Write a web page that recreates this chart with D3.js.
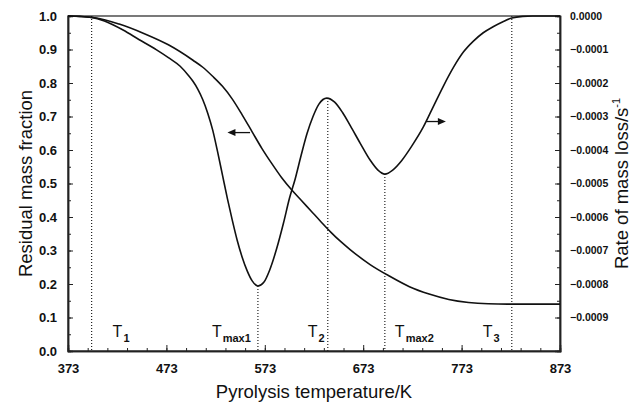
<!DOCTYPE html>
<html lang="en">
<head>
    <meta charset="UTF-8">
    <title>Pyrolysis TG / DTG</title>
    <script src="https://d3js.org/d3.v7.min.js"></script>
    <style>
        body { margin: 0; background: #fff; }
        svg { font-family: Arial, "Liberation Sans", sans-serif; }
    </style>
</head>
<body>

<script>
// residual mass fraction (left axis)
const tgTemp = [373, 400, 425, 450, 475, 500, 510, 520, 530, 540, 550, 560, 570, 580, 590, 600, 610, 620, 630, 640, 650, 660, 680, 700, 720, 740, 760, 780, 800, 820, 850, 873];
const tgMass = [1.0, 0.995, 0.976, 0.948, 0.914, 0.868, 0.847, 0.820, 0.790, 0.752, 0.705, 0.655, 0.605, 0.560, 0.518, 0.482, 0.450, 0.418, 0.386, 0.355, 0.327, 0.302, 0.258, 0.223, 0.192, 0.170, 0.154, 0.145, 0.141, 0.140, 0.140, 0.140];

// rate of mass loss (right axis)
const dtgTemp = [373, 385, 397, 410, 429, 445, 463, 475, 487, 495, 500, 505, 510, 515, 520, 525, 530, 535, 540, 545, 550, 555, 560, 566, 572, 578, 585, 592, 598, 604, 610, 616, 622, 628, 636, 644, 652, 660, 670, 680, 688, 695, 703, 712, 722, 734, 744, 754, 765, 775, 785, 795, 805, 815, 824, 835, 845, 873];
const dtgRate = [0, -0.000001, -0.000004, -0.000015, -0.000042, -0.00007, -0.000101, -0.000124, -0.00015, -0.000176, -0.000195, -0.000219, -0.00025, -0.00029, -0.00034, -0.000405, -0.000475, -0.000545, -0.00061, -0.00067, -0.00072, -0.00076, -0.00079, -0.000806, -0.000795, -0.000758, -0.000695, -0.000618, -0.000545, -0.000485, -0.000415, -0.00035, -0.0003, -0.000263, -0.000245, -0.000257, -0.000288, -0.000328, -0.00038, -0.00043, -0.00046, -0.000472, -0.00046, -0.000432, -0.00039, -0.000332, -0.000272, -0.000212, -0.000152, -0.000107, -0.000075, -0.00005, -0.000032, -0.000017, -0.000006, -0.000001, 0, 0];

const xTicks = [373, 473, 573, 673, 773, 873];
const leftTicks = [0, 0.1, 0.2, 0.3, 0.4, 0.5, 0.6, 0.7, 0.8, 0.9, 1.0];
const rightTicks = [0, -0.0001, -0.0002, -0.0003, -0.0004, -0.0005, -0.0006, -0.0007, -0.0008, -0.0009];

// characteristic temperatures and where their dotted line starts (rate units)
const markerNames = [["T", "1"], ["T", "max1"], ["T", "2"], ["T", "max2"], ["T", "3"]];
const markerTemp = [397, 566, 637, 695, 824];
const markerTop = [0, -0.000806, -0.000245, -0.000472, 0];
const markerLabelDx = [21, -46, -20, 10, -29];

const width = 631, height = 403;
const margin = {left: 68, right: 71, top: 16, bottom: 52};

const svg = d3.select("body").append("svg")
    .attr("width", width)
    .attr("height", height);

const x = d3.scaleLinear().domain([373, 873]).range([margin.left, width - margin.right]);
const yL = d3.scaleLinear().domain([0, 1]).range([height - margin.bottom, margin.top]);
const yR = d3.scaleLinear().domain([-0.001, 0]).range([height - margin.bottom, margin.top]);

// frame
svg.append("rect")
    .attr("x", x(373)).attr("y", yL(1))
    .attr("width", x(873) - x(373)).attr("height", yL(0) - yL(1))
    .attr("fill", "none").attr("stroke", "#222").attr("stroke-width", 1.2);

// axes
const gx = svg.append("g").attr("transform", `translate(0,${yL(0)})`)
    .call(d3.axisBottom(x).tickValues(d3.range(373, 874, 20)).tickSize(-3).tickFormat(""));
gx.append("g").call(d3.axisBottom(x).tickValues(xTicks).tickSize(-6).tickPadding(13).tickFormat(d3.format("d")));

const gl = svg.append("g").attr("transform", `translate(${x(373)},0)`)
    .call(d3.axisLeft(yL).tickValues(d3.range(0, 1.001, 0.05)).tickSize(-3).tickFormat(""));
gl.append("g").call(d3.axisLeft(yL).tickValues(leftTicks).tickSize(-5).tickPadding(11).tickFormat(d3.format(".1f")));

const gr = svg.append("g").attr("transform", `translate(${x(873)},0)`)
    .call(d3.axisRight(yR).tickValues(d3.range(0, 19).map(i => -i * 0.00005)).tickSize(-3).tickFormat(""));
gr.append("g").call(d3.axisRight(yR).tickValues(rightTicks).tickSize(-5).tickPadding(10).tickFormat(d3.format(".4f")));

svg.selectAll(".domain").attr("stroke", "#222").attr("stroke-width", 1.5);
svg.selectAll(".tick line").attr("stroke", "#222").attr("stroke-width", 1);
gx.selectAll("text").attr("font-size", 13).attr("font-weight", "bold").attr("fill", "#111");
gl.selectAll("text").attr("font-size", 13).attr("font-weight", "bold").attr("fill", "#111");
gr.selectAll("text").attr("font-size", 10.5).attr("font-weight", "bold").attr("fill", "#111");

// dotted marker lines
svg.append("g").selectAll("line")
    .data(markerTemp)
    .join("line")
    .attr("x1", d => x(d)).attr("x2", d => x(d))
    .attr("y1", (d, i) => yR(markerTop[i])).attr("y2", yL(0))
    .attr("stroke", "#222").attr("stroke-width", 1.2)
    .attr("stroke-dasharray", "1,2");

// marker labels
const lab = svg.append("g").selectAll("text")
    .data(markerNames)
    .join("text")
    .attr("x", (d, i) => x(markerTemp[i]) + markerLabelDx[i])
    .attr("y", 337)
    .attr("fill", "#111");
lab.append("tspan").attr("font-size", 16).text(d => d[0]);
lab.append("tspan").attr("font-size", 11).attr("font-weight", "bold").attr("dy", 5).attr("dx", 1).text(d => d[1]);

// curves
const tgLine = d3.line().x(d => x(d[0])).y(d => yL(d[1])).curve(d3.curveMonotoneX);
const dtgLine = d3.line().x(d => x(d[0])).y(d => yR(d[1])).curve(d3.curveMonotoneX);

svg.append("path")
    .datum(tgTemp.map((t, i) => [t, tgMass[i]]))
    .attr("d", tgLine)
    .attr("fill", "none").attr("stroke", "#111").attr("stroke-width", 1.6);

svg.append("path")
    .datum(dtgTemp.map((t, i) => [t, dtgRate[i]]))
    .attr("d", dtgLine)
    .attr("fill", "none").attr("stroke", "#111").attr("stroke-width", 1.6);

// arrows pointing to the axis each curve belongs to
function arrow(x1, x2, y) {
    const dir = Math.sign(x2 - x1);
    svg.append("line")
        .attr("x1", x1).attr("x2", x2 - dir * 6).attr("y1", y).attr("y2", y)
        .attr("stroke", "#111").attr("stroke-width", 1.3);
    svg.append("path")
        .attr("d", `M${x2},${y} L${x2 - dir * 8},${y - 3.5} L${x2 - dir * 8},${y + 3.5} Z`)
        .attr("fill", "#111");
}
arrow(x(558), x(535), yL(0.652));
arrow(x(737), x(757), yR(-0.000315));

// axis titles
svg.append("text")
    .attr("x", (x(373) + x(873)) / 2).attr("y", 398)
    .attr("text-anchor", "middle").attr("font-size", 18.5).attr("fill", "#111")
    .text("Pyrolysis temperature/K");

svg.append("text")
    .attr("transform", `translate(32,${(yL(0) + yL(1)) / 2}) rotate(-90)`)
    .attr("text-anchor", "middle").attr("font-size", 18.5).attr("fill", "#111")
    .text("Residual mass fraction");

const rt = svg.append("text")
    .attr("transform", `translate(628,${(yL(0) + yL(1)) / 2}) rotate(-90)`)
    .attr("text-anchor", "middle").attr("font-size", 18.5).attr("fill", "#111");
rt.append("tspan").text("Rate of mass loss/s");
rt.append("tspan").attr("font-size", 11).attr("dy", -8).text("-1");
</script>

</body>
</html>
